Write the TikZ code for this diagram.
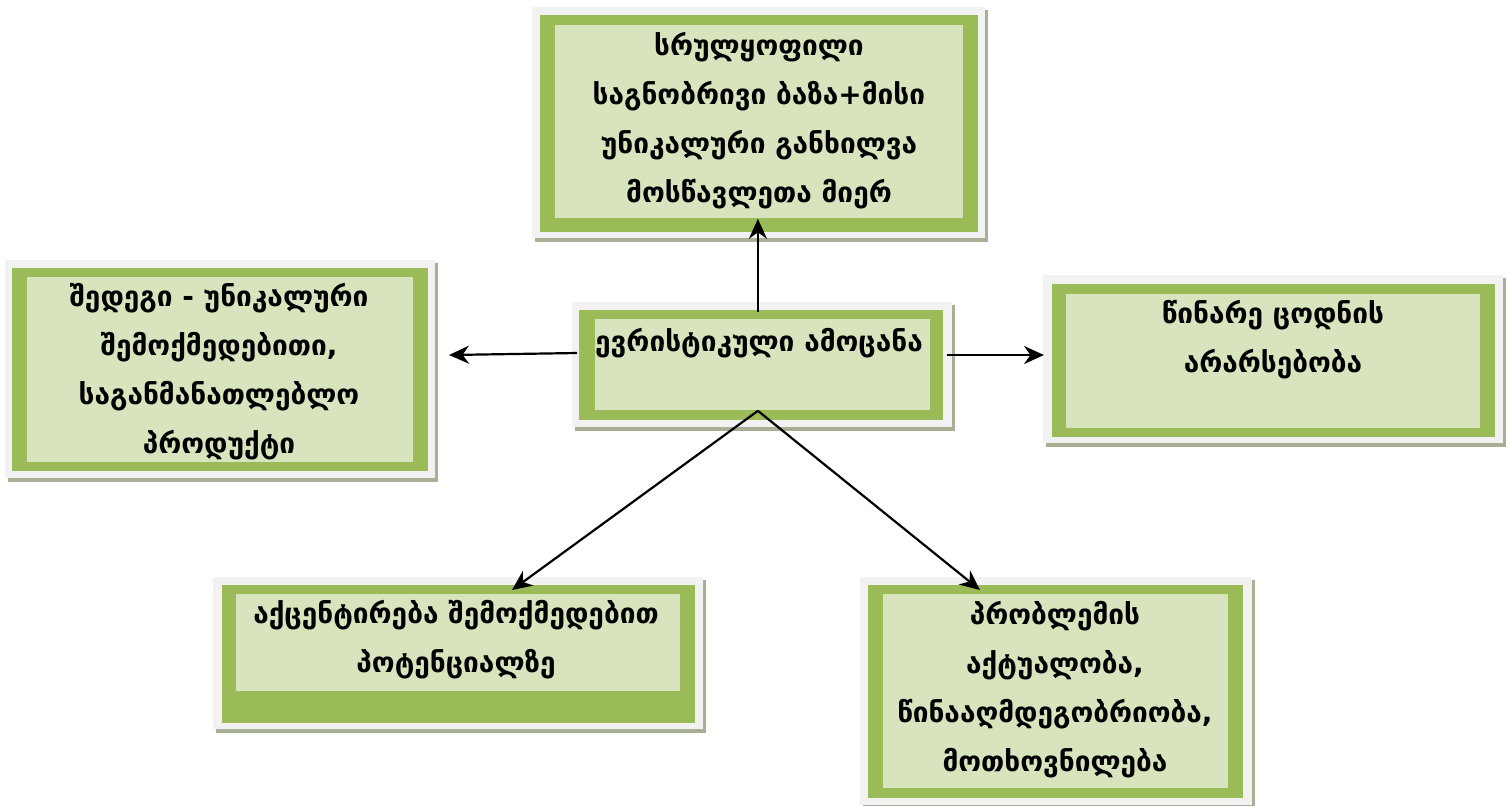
\documentclass[tikz,border=0pt]{standalone}
\usepackage{fontspec}
\setmainfont{DejaVu Sans}
\usetikzlibrary{arrows.meta}

\definecolor{panelgreen}{HTML}{9BBB59}
\definecolor{panelfill}{HTML}{D7E4BD}
\definecolor{panelrim}{HTML}{F2F2F2}
\definecolor{panelshade}{HTML}{A7B094}

\begin{document}
\begin{tikzpicture}[x=0.5pt, y=-0.5pt,
  shade/.style={fill=panelshade},
  rim/.style={fill=panelrim},
  band/.style={fill=panelgreen},
  card/.style={fill=panelfill, inner sep=0pt, anchor=north west},
  words/.style={align=center, font=\bfseries\fontsize{14}{24.5}\selectfont},
  link/.style={draw, line width=1.1pt, -{Stealth[length=10pt, width=9pt]}}]
\useasboundingbox (0,0) rectangle (1507,805);

% top panel
\path [shade] (535,10) rectangle (988,242);
\path [rim] (532,7) rectangle (985,238);
\path [band] (540,15) rectangle (978,232);
\node [card, minimum width=204pt, minimum height=96.5pt] (goal) at (555,25) {};
\node [words] (goaltext) at (759,121) {სრულყოფილი\\საგნობრივი ბაზა+მისი\\უნიკალური განხილვა\\მოსწავლეთა მიერ};

% left panel
\path [shade] (8,263) rectangle (438,482);
\path [rim] (5,260) rectangle (435,478);
\path [band] (12,268) rectangle (428,471);
\node [card, minimum width=193pt, minimum height=92.5pt] (result) at (27,277) {};
\node [words] (resulttext) at (219,372) {შედეგი - უნიკალური\\შემოქმედებითი,\\საგანმანათლებლო\\პროდუქტი};

% centre panel
\path [shade] (575,305) rectangle (955,431);
\path [rim] (572,302) rectangle (952,427);
\path [band] (579,310) rectangle (943,420);
\node [card, minimum width=167.5pt, minimum height=45.5pt] (task) at (595,319) {};
\node [words] (tasktext) at (759,343) {ევრისტიკული ამოცანა};

% right panel
\path [shade] (1046,278) rectangle (1506,447);
\path [rim] (1043,275) rectangle (1503,443);
\path [band] (1052,284) rectangle (1495,437);
\node [card, minimum width=207pt, minimum height=67pt] (absence) at (1066,294) {};
\node [words] (absencetext) at (1273,340) {წინარე ცოდნის\\არარსებობა};

% bottom left panel
\path [shade] (216,580) rectangle (706,733);
\path [rim] (213,577) rectangle (703,729);
\path [band] (222,585) rectangle (695,723);
\node [card, minimum width=222pt, minimum height=48.5pt] (focus) at (236,594) {};
\node [words] (focustext) at (456,640) {აქცენტირება შემოქმედებით\\პოტენციალზე};

% bottom right panel
\path [shade] (863,580) rectangle (1255,808);
\path [rim] (860,577) rectangle (1252,805);
\path [band] (868,585) rectangle (1243,798);
\node [card, minimum width=172.5pt, minimum height=97pt] (problem) at (883,594) {};
\node [words] (problemtext) at (1055,690) {პრობლემის\\აქტუალობა,\\წინააღმდეგობრიობა,\\მოთხოვნილება};

% arrows
\coordinate (resultin) at (449,355);
\coordinate (focusin) at (512,590);
\coordinate (problemin) at (980,590);
\path [link] ([xshift=-2.5pt,yshift=3.5pt]task.north) -- ([xshift=-2.5pt]task.north |- goal.south);
\path [link] ([xshift=-9pt]task.west |- 0,353) -- (resultin);
\path [link] ([xshift=8pt]task.east |- resultin) -- ([xshift=-11pt]absence.west |- resultin);
\path [link] ([xshift=-2.5pt]task.south) -- (focusin);
\path [link] ([xshift=-2.5pt]task.south) -- (problemin);
\end{tikzpicture}
\end{document}
